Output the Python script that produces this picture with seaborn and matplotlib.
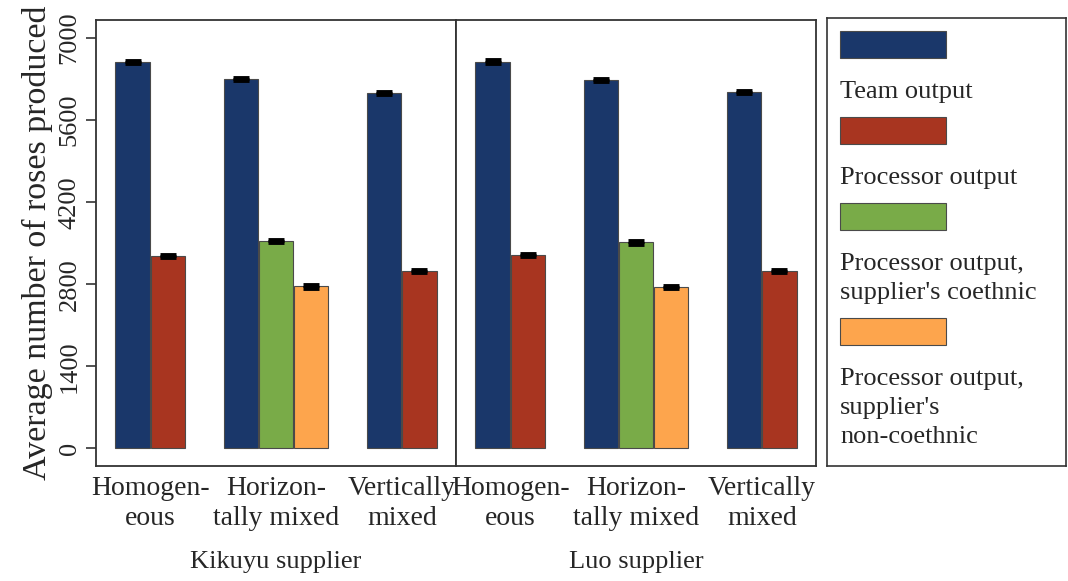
import numpy as np
import pandas as pd
import seaborn as sns
import matplotlib.pyplot as plt
from matplotlib.patches import Rectangle

# values
suppliers = ['Kikuyu supplier', 'Luo supplier']
compositions = ['Homogen-\neous', 'Horizon-\ntally mixed', 'Vertically\nmixed']
series = ['Team output', 'Processor output',
          "Processor output,\nsupplier's coethnic",
          "Processor output,\nsupplier's\nnon-coethnic"]
colors = ['#1a376a', '#a83520', '#79ab48', '#fda54d']

kikuyu_team = [6590, 6300, 6070]
kikuyu_proc = [3285, np.nan, 3027]
kikuyu_coeth = [np.nan, 3534, np.nan]
kikuyu_noncoeth = [np.nan, 2765, np.nan]

luo_team = [6600, 6287, 6077]
luo_proc = [3295, np.nan, 3027]
luo_coeth = [np.nan, 3514, np.nan]
luo_noncoeth = [np.nan, 2759, np.nan]

err = 20  # tiny standard errors
yticks = [0, 1400, 2800, 4200, 5600, 7000]

panel_vals = {
    'Kikuyu supplier': [kikuyu_team, kikuyu_proc, kikuyu_coeth, kikuyu_noncoeth],
    'Luo supplier': [luo_team, luo_proc, luo_coeth, luo_noncoeth],
}

bw = 0.28
rows = []
for sup in suppliers:
    vals = panel_vals[sup]
    for g in range(len(compositions)):
        present = [s for s in range(len(series)) if not np.isnan(vals[s][g])]
        k = len(present)
        for i, s in enumerate(present):
            rows.append({'supplier': sup, 'group': g, 'series': series[s],
                         'pos': round(g + (i - (k - 1) / 2) * bw, 4),
                         'value': vals[s][g], 'err': err})
df = pd.DataFrame(rows)

sns.set_style('ticks')
plt.rcParams['font.family'] = ['Liberation Serif', 'DejaVu Serif']
fsize = 19

fig = plt.figure(figsize=(10.68, 5.81), dpi=100)
W, H = 1068, 581
axes = []
for j, x0 in enumerate([96, 456]):
    ax = fig.add_axes([x0 / W, (H - 466) / H, 360 / W, 446 / H])
    axes.append(ax)
    sub = df[df.supplier == suppliers[j]]
    sns.barplot(data=sub, x='pos', y='value', hue='series', hue_order=series,
                palette=colors, saturation=1, native_scale=True, dodge=False,
                width=0.97, errorbar=None, edgecolor='#4a4a4a', linewidth=0.8,
                legend=False, ax=ax)
    ax.errorbar(sub.pos, sub.value, yerr=sub.err, fmt='none', ecolor='black',
                elinewidth=1.5, capsize=6, capthick=3.5, zorder=5)
    ax.set_xlim(-0.43, 2.43)
    ax.set_ylim(-300, 7310)
    ax.set_xticks(range(len(compositions)))
    ax.set_xticklabels(compositions, fontsize=20, linespacing=1.3)
    ax.tick_params(axis='x', length=0, pad=7)
    ax.set_xticks([1], minor=True)
    ax.tick_params(axis='x', which='minor', length=7, width=1.2, color='#333333')
    ax.set_xlabel(suppliers[j], fontsize=fsize, labelpad=14)
    ax.set_yticks(yticks)
    for sp in ax.spines.values():
        sp.set_visible(True)
        sp.set_color('#333333')
        sp.set_linewidth(1.3)
    if j == 0:
        ax.set_yticklabels(yticks, fontsize=fsize, rotation=90, va='center')
        ax.tick_params(axis='y', length=7, width=1.2, color='#333333', pad=4)
        ax.set_ylabel('Average number of roses produced', fontsize=24.5, labelpad=4)
    else:
        ax.tick_params(axis='y', length=0, labelleft=False)
        ax.set_ylabel('')

# legend box: patch on one row, its label lines underneath
lax = fig.add_axes([827 / W, (H - 466) / H, 239 / W, 448 / H])
lax.set_xlim(0, 239)
lax.set_ylim(448, 0)
lax.set_xticks([])
lax.set_yticks([])
for sp in lax.spines.values():
    sp.set_visible(True)
    sp.set_color('#333333')
    sp.set_linewidth(1.2)
y = 13
for lab, c in zip(series, colors):
    lax.add_patch(Rectangle((13, y), 106, 27, facecolor=c, edgecolor='#4a4a4a', linewidth=0.8))
    y += 27 + 34
    for n, line in enumerate(lab.split('\n')):
        if n:
            y += 29
        lax.text(13, y, line, fontsize=fsize, va='center', ha='left')
    y += 25

fig.savefig('out.png', dpi=100)
